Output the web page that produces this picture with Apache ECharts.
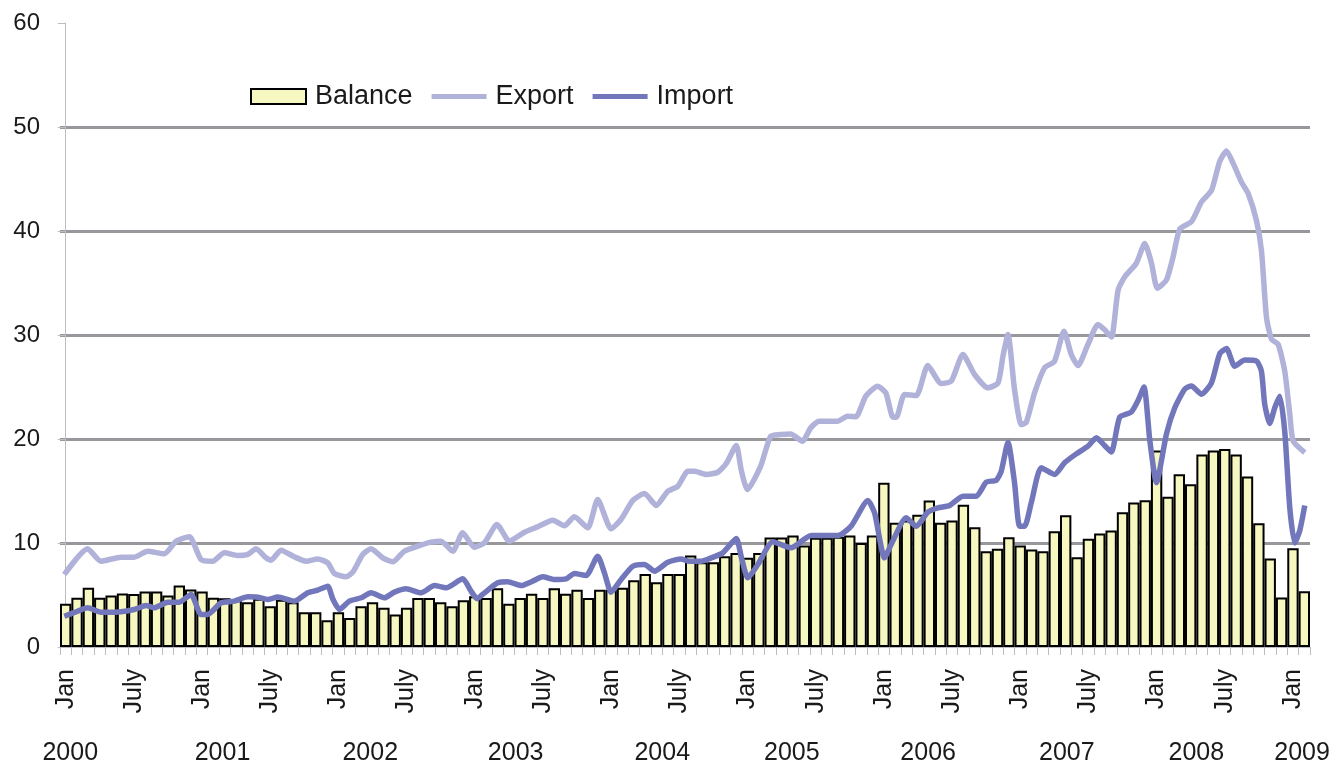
<!DOCTYPE html>
<html lang="en" style="height: 100%">
<head>
  <meta charset="utf-8">
</head>
<body style="height: 100%; margin: 0; background: #fff">
  <div id="container" style="width: 1330px; height: 762px"></div>

  <script type="text/javascript" src="https://cdn.jsdelivr.net/npm/echarts@6/dist/echarts.min.js"></script>

  <script type="text/javascript">
    var dom = document.getElementById('container');
    var myChart = echarts.init(dom, null, { renderer: 'canvas' });

    // month names used on the category axis (only Jan / July are shown)
    var monthNames = ['Jan', 'Feb', 'Mar', 'Apr', 'May', 'June', 'July', 'Aug', 'Sep', 'Oct', 'Nov', 'Dec'];
    var monthCount = 110; // Jan 2000 .. Feb 2009

    // year labels and where they sit (in months from Jan 2000)
    var yearLabels = ['2000', '2001', '2002', '2003', '2004', '2005', '2006', '2007', '2008', '2009'];
    var yearLabelPos = [0.4, 13.8, 26.8, 39.6, 52.5, 63.9, 75.9, 88.1, 99.5, 108.8];

    // monthly balance (bars)
    var balance = [
      4.15, 4.73, 5.69, 4.73, 4.95, 5.14, 5.10, 5.34, 5.34, 4.95, 5.91, 5.53,
      5.33, 4.73, 4.68, 4.50, 4.31, 4.63, 3.92, 4.55, 4.30, 3.35, 3.35, 2.57,
      3.35, 2.80, 3.92, 4.31, 3.77, 3.12, 3.77, 4.70, 4.70, 4.31, 3.92, 4.50,
      4.89, 4.70, 5.65, 4.15, 4.70, 5.11, 4.70, 5.65, 5.11, 5.50, 4.70, 5.50,
      5.50, 5.70, 6.42, 7.03, 6.23, 7.03, 7.03, 8.80, 8.15, 8.15, 8.73, 9.05,
      8.57, 9.05, 10.53, 10.53, 10.72, 9.76, 10.50, 10.50, 10.60, 10.72, 10.00, 10.72,
      15.79, 11.94, 12.16, 12.71, 14.09, 11.94, 12.16, 13.67, 11.52, 9.21, 9.44, 10.56,
      9.76, 9.38, 9.21, 11.14, 12.67, 8.64, 10.40, 10.91, 11.20, 12.95, 13.90, 14.10,
      18.90, 14.45, 16.60, 15.65, 18.50, 18.90, 19.05, 18.50, 16.40, 11.90, 8.50, 4.75,
      9.50, 5.35
    ];

    // export, [months from Jan 2000, value]
    var exportPts = [
      [-0.12, 6.97], [1.93, 9.44], [3.1, 8.25], [4.87, 8.64], [6.04, 8.64], [7.21, 9.21],
      [8.68, 8.96], [9.71, 10.17], [10.88, 10.6], [11.91, 8.41], [12.94, 8.25], [13.96, 9.06],
      [15.14, 8.8], [16.02, 8.9], [16.75, 9.44], [17.6, 8.6], [18.07, 8.35], [18.95, 9.31],
      [20.12, 8.67], [21.15, 8.25], [22.18, 8.47], [23.06, 8.09], [23.65, 7.07], [24.67, 6.75],
      [25.26, 7.19], [26.14, 8.89], [26.87, 9.44], [27.9, 8.57], [28.78, 8.19], [29.8, 9.21],
      [30.98, 9.69], [32.15, 10.08], [33.03, 10.17], [34.06, 9.21], [34.94, 10.98], [35.96, 9.6],
      [36.85, 10.02], [37.96, 11.78], [39.05, 10.17], [40.37, 11.04], [41.54, 11.56], [42.86, 12.19],
      [43.89, 11.66], [44.77, 12.52], [45.94, 11.46], [46.82, 14.18], [48.0, 11.36], [48.88, 12.28],
      [49.91, 14.09], [50.93, 14.76], [51.96, 13.61], [52.99, 14.98], [53.87, 15.46], [54.75, 16.9],
      [55.34, 16.9], [56.37, 16.59], [57.39, 16.8], [58.13, 17.64], [59.01, 19.38], [59.45, 17.0],
      [59.99, 15.14], [61.16, 17.39], [62.04, 20.27], [62.92, 20.43], [63.8, 20.49], [64.83, 19.79],
      [65.56, 21.07], [66.3, 21.71], [67.91, 21.71], [68.79, 22.19], [69.53, 22.13], [70.41, 24.12],
      [71.44, 25.08], [72.17, 24.44], [72.76, 22.13], [73.1, 22.1], [73.82, 24.28], [74.85, 24.18],
      [75.87, 27.07], [77.05, 25.34], [77.93, 25.56], [78.96, 28.13], [79.98, 26.2], [81.16, 24.92],
      [82.04, 25.38], [82.48, 27.96], [82.92, 30.05], [83.5, 24.76], [84.09, 21.39], [84.53, 21.6],
      [85.26, 24.44], [86.14, 26.84], [87.02, 27.48], [87.85, 30.37], [88.49, 28.13], [89.08, 27.07],
      [89.96, 29.09], [90.84, 31.01], [91.43, 30.5], [92.02, 29.8], [92.61, 34.3], [93.2, 35.6],
      [94.22, 36.9], [94.96, 38.8], [95.55, 36.9], [96.07, 34.5], [96.87, 35.3], [97.45, 37.5],
      [98.04, 40.2], [99.07, 40.9], [99.95, 42.8], [100.83, 43.9], [101.56, 46.7], [102.15, 47.7],
      [102.74, 46.5], [103.47, 44.7], [104.06, 43.6], [104.79, 41.0], [105.23, 38.1], [105.67, 31.7],
      [106.11, 29.6], [106.7, 29.1], [107.28, 26.5], [107.72, 22.4], [108.02, 19.8], [109.04, 18.7]
    ];

    // import, [months from Jan 2000, value]
    var importPts = [
      [-0.12, 2.96], [1.05, 3.44], [1.93, 3.77], [3.1, 3.35], [4.28, 3.35], [6.04, 3.61],
      [7.07, 3.99], [7.8, 3.77], [8.98, 4.31], [10.0, 4.31], [11.03, 5.05], [11.91, 3.13],
      [12.49, 3.13], [13.67, 4.25], [14.85, 4.41], [16.02, 4.82], [16.9, 4.79], [17.78, 4.57],
      [18.66, 4.8], [20.12, 4.41], [21.3, 5.21], [22.18, 5.47], [23.06, 5.85], [23.5, 4.63],
      [24.09, 3.61], [24.97, 4.41], [26.0, 4.73], [26.87, 5.21], [28.04, 4.73], [28.93, 5.28],
      [29.95, 5.6], [31.27, 5.21], [32.45, 5.91], [33.48, 5.69], [34.94, 6.56], [35.67, 5.37],
      [36.2, 4.65], [36.85, 5.21], [38.02, 6.17], [38.9, 6.27], [40.08, 5.91], [41.1, 6.33],
      [41.98, 6.75], [43.01, 6.49], [44.04, 6.55], [44.77, 7.07], [45.8, 6.88], [46.82, 8.73],
      [47.41, 7.13], [48.0, 5.27], [48.88, 6.49], [49.91, 7.77], [50.93, 7.93], [51.81, 7.29],
      [52.99, 8.15], [54.16, 8.47], [54.89, 8.25], [55.93, 8.25], [56.81, 8.57], [57.84, 9.06],
      [59.01, 10.43], [59.45, 8.67], [60.03, 6.65], [60.91, 7.93], [62.23, 10.11], [63.84, 9.54],
      [65.6, 10.72], [67.95, 10.72], [69.12, 11.62], [70.59, 14.09], [71.18, 12.9], [72.06, 8.57],
      [72.64, 9.86], [73.97, 12.42], [74.85, 11.62], [75.87, 12.96], [76.75, 13.38], [77.78, 13.6],
      [78.96, 14.5], [80.13, 14.5], [81.01, 15.85], [81.89, 16.04], [82.33, 16.9], [82.92, 19.69],
      [83.5, 15.79], [83.94, 11.62], [84.38, 11.62], [84.97, 13.86], [85.85, 17.23], [87.02, 16.59],
      [87.9, 17.71], [88.93, 18.57], [89.96, 19.31], [90.7, 20.11], [91.4, 19.4], [92.02, 18.75],
      [92.75, 22.1], [93.78, 22.6], [94.37, 23.7], [94.89, 25.0], [95.4, 19.9], [95.99, 15.8],
      [96.87, 20.5], [97.6, 23.0], [98.48, 24.8], [99.07, 25.1], [99.95, 24.3], [100.83, 25.4],
      [101.56, 28.2], [102.15, 28.7], [102.88, 27.0], [103.76, 27.6], [104.79, 27.5], [105.23, 26.5],
      [105.52, 23.3], [105.96, 21.5], [106.4, 23.0], [106.84, 24.1], [107.28, 20.7], [107.72, 13.4],
      [108.16, 10.0], [108.6, 11.2], [109.04, 13.6]
    ];

    var months = [];
    for (var i = 0; i < monthCount; i++) {
      months.push(monthNames[i % 12]);
    }

    var font = 'Liberation Sans';
    var textColor = '#1a1a1a';
    var lightAxis = '#bdbdbd';
    var exportColor = '#b1b2d9';
    var importColor = '#7277bc';
    // flat bar used as the legend icon of the two lines
    var lineIcon = 'path://M0,0 L58,0 L58,5.5 L0,5.5 Z';

    var option = {
      animation: false,
      backgroundColor: '#fff',
      grid: {
        left: 60, right: 20, top: 23, bottom: 115,
        containLabel: false,
        outerBoundsMode: 'none'
      },
      legend: {
        left: 250,
        top: 83,
        padding: 0,
        itemWidth: 55,
        itemHeight: 15,
        itemGap: 19,
        symbolKeepAspect: true,
        textStyle: { fontFamily: font, fontSize: 27, color: textColor, padding: [0, 0, 0, 4] },
        data: [
          { name: 'Balance', icon: 'rect' },
          { name: 'Export', icon: lineIcon, itemStyle: { color: exportColor, borderWidth: 0 } },
          { name: 'Import', icon: lineIcon, itemStyle: { color: importColor, borderWidth: 0 } }
        ]
      },
      xAxis: [
        {
          type: 'category',
          data: months,
          boundaryGap: true,
          position: 'bottom',
          axisLine: { lineStyle: { color: lightAxis, width: 1 } },
          axisTick: { show: true, interval: 0, length: 8, lineStyle: { color: lightAxis } },
          axisLabel: {
            interval: function (index) { return index % 6 === 0; },
            rotate: 90,
            margin: 22,
            fontFamily: font,
            fontSize: 25,
            color: textColor
          },
          splitLine: { show: false }
        },
        {
          type: 'value',
          min: -0.5,
          max: monthCount - 0.5,
          position: 'bottom',
          axisLine: { show: false },
          axisTick: { show: false },
          splitLine: { show: false },
          axisLabel: {
            customValues: yearLabelPos,
            margin: 94,
            fontFamily: font,
            fontSize: 25,
            color: textColor,
            formatter: function (v) {
              var k = yearLabelPos.indexOf(v);
              return k >= 0 ? yearLabels[k] : '';
            }
          }
        }
      ],
      yAxis: {
        type: 'value',
        min: 0,
        max: 60,
        interval: 10,
        axisLine: { show: true, lineStyle: { color: lightAxis, width: 1 } },
        axisTick: { show: true, length: 8, lineStyle: { color: lightAxis } },
        axisLabel: { margin: 20, fontFamily: font, fontSize: 24, color: textColor },
        splitLine: {
          show: true,
          showMinLine: false,
          showMaxLine: false,
          lineStyle: { color: '#98989c', width: 3 }
        }
      },
      series: [
        {
          name: 'Balance',
          type: 'bar',
          xAxisIndex: 0,
          data: balance,
          barCategoryGap: '0%',
          itemStyle: { color: '#f7f7c1', borderColor: '#000', borderWidth: 2 }
        },
        {
          name: 'Export',
          type: 'line',
          xAxisIndex: 1,
          data: exportPts,
          showSymbol: false,
          symbol: 'none',
          smooth: 0.2,
          lineStyle: { color: exportColor, width: 5.5 },
          itemStyle: { color: exportColor }
        },
        {
          name: 'Import',
          type: 'line',
          xAxisIndex: 1,
          data: importPts,
          showSymbol: false,
          symbol: 'none',
          smooth: 0.2,
          lineStyle: { color: importColor, width: 5.5 },
          itemStyle: { color: importColor }
        }
      ]
    };

    myChart.setOption(option);
    window.addEventListener('resize', myChart.resize);
  </script>
</body>
</html>
